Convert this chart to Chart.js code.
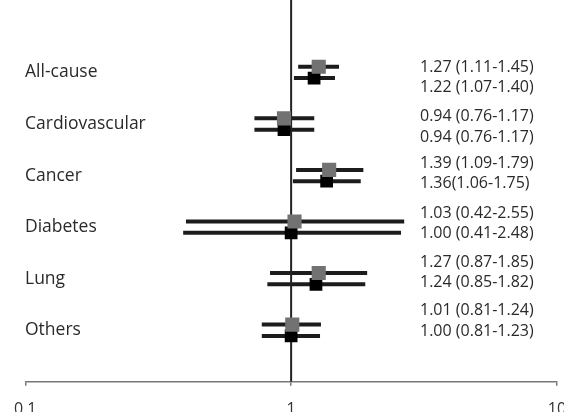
<!DOCTYPE html>
<html>
<head>
<meta charset="utf-8">
<script src="https://cdn.jsdelivr.net/npm/chart.js@4.4.1/dist/chart.umd.min.js"></script>
<style>
  html, body { margin: 0; padding: 0; overflow: hidden; background: #fff; }
  #wrap { position: absolute; left: 0; top: 0; width: 600px; height: 440px; }
</style>
</head>
<body>
<div id="wrap"><canvas id="forest"></canvas></div>
<script>
// outcome groups, top to bottom
var categories = ['All-cause', 'Cardiovascular', 'Cancer', 'Diabetes', 'Lung', 'Others'];

// first estimate (grey squares)
var hrA = [1.27, 0.94, 1.39, 1.03, 1.27, 1.01];
var loA = [1.11, 0.76, 1.09, 0.42, 0.87, 0.81];
var hiA = [1.45, 1.17, 1.79, 2.55, 1.85, 1.24];
var ciTextA = ['1.27 (1.11-1.45)', '0.94 (0.76-1.17)', '1.39 (1.09-1.79)', '1.03 (0.42-2.55)', '1.27 (0.87-1.85)', '1.01 (0.81-1.24)'];

// second estimate (black squares)
var hrB = [1.22, 0.94, 1.36, 1.00, 1.24, 1.00];
var loB = [1.07, 0.76, 1.06, 0.41, 0.85, 0.81];
var hiB = [1.40, 1.17, 1.75, 2.48, 1.82, 1.23];
var ciTextB = ['1.22 (1.07-1.40)', '0.94 (0.76-1.17)', '1.36(1.06-1.75)', '1.00 (0.41-2.48)', '1.24 (0.85-1.82)', '1.00 (0.81-1.23)'];

// x axis tick labels
var xTicks = [0.1, 1, 10];

// layout bits (in y-axis units, row i sits at i + 1)
var pairOffset = 0.11;
var textRows = [1.10, 2.06, 2.96, 3.93, 4.88, 5.82];
var textHalfGap = 0.2;

function points(vals, shift) {
    return vals.map(function (v, i) {
        return { x: v, y: i + 1 + shift };
    });
}

// horizontal CI bars + side texts
var forestPlugin = {
    id: 'forest',
    beforeDatasetsDraw: function (chart) {
        var ctx = chart.ctx, xs = chart.scales.x, ys = chart.scales.y;
        ctx.save();
        ctx.strokeStyle = '#1c1c1c';
        ctx.lineWidth = 4;
        ctx.lineCap = 'square';
        [[loA, hiA, -pairOffset], [loB, hiB, pairOffset]].forEach(function (s) {
            s[0].forEach(function (lo, i) {
                var y = ys.getPixelForValue(i + 1 + s[2]);
                ctx.beginPath();
                ctx.moveTo(xs.getPixelForValue(lo) - 3, y);
                ctx.lineTo(xs.getPixelForValue(s[1][i]) + 3, y);
                ctx.stroke();
            });
        });
        ctx.restore();
    },
    afterDraw: function (chart) {
        var ctx = chart.ctx, ys = chart.scales.y;
        ctx.save();
        ctx.fillStyle = '#2a2a2a';
        ctx.textBaseline = 'middle';
        ctx.textAlign = 'left';
        ctx.font = '17.5px "Open Sans"';
        categories.forEach(function (c, i) {
            ctx.fillText(c, 25, ys.getPixelForValue(i + 1));
        });
        ctx.font = '16px "Open Sans"';
        textRows.forEach(function (r, i) {
            ctx.fillText(ciTextA[i], 420, ys.getPixelForValue(r - textHalfGap));
            ctx.fillText(ciTextB[i], 420, ys.getPixelForValue(r + textHalfGap));
        });
        ctx.restore();
    }
};

var chart = new Chart(document.getElementById('forest'), {
    type: 'scatter',
    data: {
        datasets: [
            {
                label: 'A',
                data: points(hrA, -pairOffset),
                pointStyle: 'rect',
                pointRadius: 10,
                backgroundColor: '#727272',
                borderWidth: 0
            },
            {
                label: 'B',
                data: points(hrB, pairOffset),
                pointStyle: 'rect',
                pointRadius: 9,
                backgroundColor: '#000',
                borderWidth: 0
            },
            {
                label: 'ref',
                data: [{ x: 1, y: -0.405 }, { x: 1, y: 7.0 }],
                showLine: true,
                borderColor: '#222',
                borderWidth: 2,
                pointRadius: 0
            }
        ]
    },
    options: {
        responsive: true,
        maintainAspectRatio: false,
        animation: false,
        layout: { autoPadding: false, padding: { left: 21, right: 43, top: 0, bottom: 7 } },
        plugins: { legend: { display: false }, tooltip: { enabled: false } },
        scales: {
            x: {
                type: 'logarithmic',
                min: 0.1,
                max: 10,
                afterBuildTicks: function (scale) {
                    scale.ticks = xTicks.map(function (v) { return { value: v }; });
                },
                ticks: {
                    autoSkip: false,
                    maxRotation: 0,
                    padding: 14,
                    color: '#333',
                    font: { family: 'Open Sans', size: 16 },
                    callback: function (v) { return String(v); }
                },
                grid: { drawOnChartArea: false, tickLength: 4, color: '#777', lineWidth: 1.5 },
                border: { color: '#777', width: 1.5 }
            },
            y: {
                display: false,
                reverse: true,
                min: -0.405,
                max: 7.0
            }
        }
    },
    plugins: [forestPlugin]
});
</script>
</body>
</html>
